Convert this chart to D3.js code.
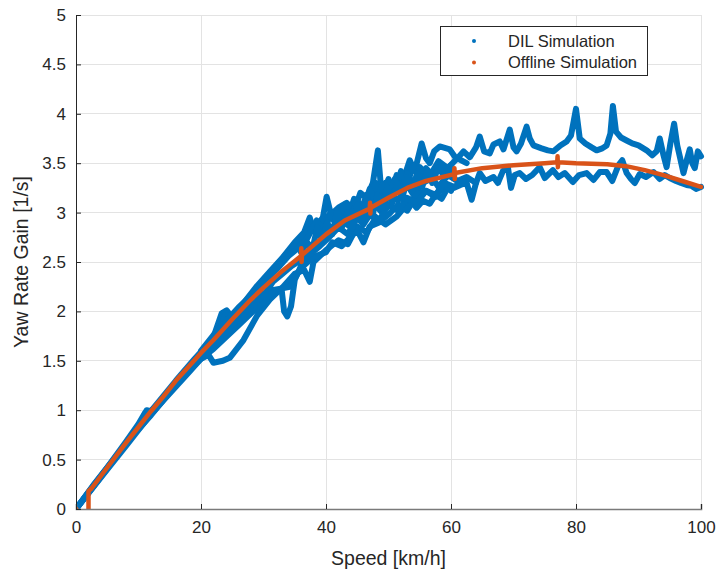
<!DOCTYPE html>
<html>
<head>
<meta charset="utf-8">
<script src="https://cdn.jsdelivr.net/npm/d3@7"></script>
<style>
  html, body { margin: 0; padding: 0; background: #fff; }
  svg { display: block; font-family: Arial, "Liberation Sans", Helvetica, sans-serif; }
</style>
</head>
<body>
<svg id="chart" width="719" height="572"></svg>
<script>
// ---------- data ----------
const xTicks = [0, 20, 40, 60, 80, 100];
const yTicks = [0, 0.5, 1, 1.5, 2, 2.5, 3, 3.5, 4, 4.5, 5];
const yTickLabels = ["0", "0.5", "1", "1.5", "2", "2.5", "3", "3.5", "4", "4.5", "5"];
const seriesNames = ["DIL Simulation", "Offline Simulation"];
const xLabel = "Speed [km/h]";
const yLabel = "Yaw Rate Gain [1/s]";

// DIL Simulation: several recorded runs [speed, gain]
const dilRunA = [[0,0],[2,0.17],[5,0.42],[8,0.68],[10,0.86],[11,0.97],[12,0.99],[14,1.12],[17,1.35],[20,1.58],[22,1.74],[23.3,1.98],[24.1,2.01],[25,1.94],[27,2.10],[29,2.26],[31,2.40],[33,2.54],[35,2.70],[36.5,2.80],[37.4,2.95],[38,2.82],[39.5,2.95],[40.1,3.16],[40.8,2.98],[42,3.05],[43.3,3.10],[44.5,3.02],[45.5,3.20],[46.5,3.15],[47.5,3.30],[48.3,3.63],[48.8,3.25],[49.5,3.30],[50.5,3.22],[51.3,3.38],[52.2,3.30],[53.4,3.53],[54.2,3.42],[55.3,3.70],[56,3.55],[56.6,3.50],[57.3,3.62],[58.2,3.67],[59.8,3.64],[60.9,3.54],[62,3.62],[63,3.56],[64,3.66],[64.6,3.77],[65.3,3.62],[66.2,3.60],[66.8,3.69],[67.8,3.72],[68.4,3.64],[69.4,3.84],[70,3.66],[70.5,3.62],[71.2,3.70],[72.1,3.87],[72.6,3.75],[73.2,3.68],[74.5,3.65],[75.5,3.63],[76.4,3.62],[77.5,3.68],[78.5,3.72],[79.2,3.78],[80,4.05],[80.6,3.75],[81.5,3.70],[82.5,3.66],[83.3,3.63],[84.2,3.65],[84.9,3.68],[85.5,3.80],[85.9,4.08],[86.4,3.82],[87.2,3.76],[88.1,3.73],[89,3.70],[90,3.68],[91.3,3.63],[92.2,3.58],[92.9,3.62],[93.4,3.75],[94,3.58],[94.5,3.46],[95.1,3.70],[95.7,3.90],[96.2,3.68],[96.6,3.57],[97.2,3.40],[97.8,3.55],[98.2,3.64],[98.6,3.50],[99,3.45],[99.5,3.62],[100,3.57]];
const dilRunB = [[0,0],[2,0.16],[5,0.40],[8,0.64],[10,0.80],[12,0.96],[14,1.10],[16,1.24],[18,1.38],[20,1.52],[21.2,1.56],[22,1.48],[23.5,1.50],[24.6,1.53],[26.8,1.71],[29,1.96],[31,2.12],[33,2.24],[35,2.38],[36.5,2.42],[37.4,2.30],[38,2.50],[40,2.62],[42,2.72],[43.5,2.68],[45,2.86],[46.5,2.80],[48,2.95],[49.5,2.88],[51.3,2.96],[52.5,3.05],[53.4,3.13],[54.5,3.05],[55.5,3.12],[56.6,3.09],[57.5,3.18],[58.5,3.14],[59.3,3.23],[60.5,3.25],[61.5,3.28],[62.5,3.30],[63.3,3.13],[64,3.30],[64.6,3.40],[65.5,3.32],[66.8,3.36],[67.5,3.30],[68.3,3.42],[69.1,3.46],[69.6,3.25],[70.2,3.38],[71,3.40],[72,3.34],[73,3.38],[74.2,3.46],[75,3.35],[76.3,3.43],[77.2,3.36],[78.2,3.40],[79.5,3.31],[80.5,3.38],[81.7,3.40],[82.8,3.33],[83.8,3.41],[84.9,3.41],[85.8,3.32],[86.8,3.48],[87.4,3.53],[88.1,3.40],[88.8,3.34],[89.4,3.30],[90.2,3.39],[91.2,3.36],[92.4,3.41],[93.4,3.34],[94.2,3.38],[95,3.35],[96,3.32],[96.8,3.30],[97.7,3.28],[98.5,3.27],[99.2,3.24],[100,3.26]];
const dilRunC = [[0,0],[3,0.26],[6,0.50],[9,0.74],[12,0.95],[15,1.18],[18,1.42],[20,1.56],[22,1.70],[23.5,1.82],[24.2,1.98],[25,1.85],[26.5,1.96],[28,2.08],[30,2.18],[31.5,2.22],[32.9,2.22],[33.3,2.00],[33.8,1.95],[34.4,2.05],[35,2.32],[36,2.46],[37,2.54],[38,2.66],[39.5,2.70],[41,2.84],[42.5,2.92],[44,2.85],[45,3.05],[46,2.95],[47.5,3.10],[49,3.00],[50,3.20],[51.5,3.12],[53,3.28],[54,3.18],[55.5,3.30],[57,3.35],[58,3.26],[59.5,3.38],[61,3.32],[62.5,3.36],[64,3.30]];
const dilRunD = [[0,0],[4,0.33],[8,0.66],[10.5,0.88],[11.3,1.00],[12,0.99],[16,1.30],[19,1.52],[21,1.66],[23,1.82],[24,1.98],[24.8,1.86],[26,1.98],[27.5,2.12],[29,2.22],[30.5,2.35],[32,2.46],[33.2,2.55],[35,2.66],[36.5,2.78],[38,2.86],[39,2.80],[40.5,2.98],[41.5,2.90],[42.5,3.06],[43.5,2.94],[44.5,3.14],[45.5,3.00],[46.5,3.18],[47.3,3.05],[48,3.30],[48.8,3.12],[50,3.34],[51,3.20],[52,3.42],[53,3.30],[54,3.48],[55,3.35],[56,3.45],[57,3.38],[58,3.50],[59,3.42],[60,3.48]];
const dilRunE = [[0,0],[5,0.41],[10,0.82],[15,1.20],[18,1.40],[20,1.52],[22,1.62],[24,1.74],[26,1.86],[28,1.98],[30,2.10],[32,2.22],[34.2,2.25],[36,2.44],[38,2.55],[40,2.60],[41,2.70],[42.5,2.66],[44,2.76],[45,2.82],[46,2.70],[47,2.86],[48.5,2.90],[50,2.98],[51.5,3.08],[53,3.02],[54.5,3.18],[56,3.22],[57.5,3.16],[59,3.28],[60,3.22]];
const dilRunF = [[20,1.55],[22,1.68],[24,1.80],[26,1.92],[28,2.05],[30,2.16],[31.5,2.30],[33,2.38],[34.5,2.46],[36,2.52],[37.5,2.58],[39,2.66],[40.5,2.75],[42,2.85],[43.5,2.78],[45,2.95],[46,2.88],[47.2,3.00],[48.5,2.92],[50,3.08],[51.5,3.02],[53,3.15],[54.5,3.10],[56,3.22],[57.5,3.18],[59,3.30],[60.5,3.26],[62,3.32]];
const dilRunG = [[20,1.60],[22,1.76],[24,1.90],[26,2.04],[28,2.16],[30,2.30],[32,2.42],[34,2.56],[35.5,2.64],[37,2.74],[38.5,2.92],[39.5,2.82],[41,3.00],[42,2.90],[43,3.08],[44,2.96],[45,3.12],[46,3.04],[47,3.24],[48,3.10],[49,3.28],[50,3.15],[51,3.34],[52,3.22],[53,3.40],[54,3.28],[55,3.46],[56.5,3.36],[58,3.52],[59.5,3.45],[61,3.55],[62.5,3.50]];
const dilRunH = [[36,2.60],[37,2.70],[37.8,2.62],[38.6,2.85],[39.4,2.72],[40.2,2.90],[41,2.78],[41.8,3.02],[42.6,2.86],[43.4,3.00],[44.2,2.84],[45,3.08],[45.8,2.92],[46.6,3.12],[47.4,2.96],[48.2,3.18],[49,3.04],[49.8,3.26],[50.6,3.10],[51.4,3.30],[52.2,3.14],[53,3.36],[53.8,3.22],[54.6,3.40],[55.4,3.26],[56.2,3.42],[57,3.30],[58,3.46],[59,3.36],[60,3.44]];
const dilRuns = [dilRunA, dilRunB, dilRunC, dilRunD, dilRunE, dilRunF, dilRunG, dilRunH];

// Offline Simulation [speed, gain]
const offlineSpeed = [0, 2, 2, 2.5, 5, 8, 10, 12, 14, 16, 18, 20, 22, 25, 28, 30, 33, 36, 36.05, 36.1, 36.15, 40, 43, 47, 47.05, 47.1, 47.15, 50, 53, 56, 60.5, 60.55, 60.6, 60.65, 65, 70, 75, 77, 77.05, 77.1, 77.15, 80, 85, 88, 91, 94, 97, 100];
const offlineGain  = [0, 0, 0.18, 0.21, 0.42, 0.67, 0.83, 0.99, 1.14, 1.30, 1.44, 1.58, 1.71, 1.92, 2.12, 2.24, 2.41, 2.56, 2.64, 2.50, 2.57, 2.78, 2.92, 3.04, 3.10, 2.99, 3.05, 3.15, 3.25, 3.32, 3.39, 3.45, 3.34, 3.40, 3.45, 3.48, 3.50, 3.51, 3.57, 3.46, 3.51, 3.50, 3.49, 3.47, 3.43, 3.38, 3.32, 3.26];

// ---------- drawing ----------
const W = 719, H = 572;
const margin = {left: 76, top: 15, right: 18, bottom: 63};
const svg = d3.select("#chart");
const x = d3.scaleLinear().domain([0, 100]).range([margin.left, W - margin.right]);
const y = d3.scaleLinear().domain([0, 5]).range([H - margin.bottom, margin.top]);

const blue = "#0072BD", orange = "#D95319", axisColor = "#262626", gridColor = "#e3e3e3";

// grid
const grid = svg.append("g");
grid.selectAll("line.gx").data(xTicks.filter(t => t > 0)).join("line")
  .attr("x1", d => x(d)).attr("x2", d => x(d))
  .attr("y1", y(0)).attr("y2", y(5))
  .attr("stroke", gridColor).attr("stroke-width", 1).attr("shape-rendering", "crispEdges");
grid.selectAll("line.gy").data(yTicks.filter(t => t > 0)).join("line")
  .attr("x1", x(0)).attr("x2", x(100))
  .attr("y1", d => y(d)).attr("y2", d => y(d))
  .attr("stroke", gridColor).attr("stroke-width", 1).attr("shape-rendering", "crispEdges");

// clip
svg.append("clipPath").attr("id", "plotclip").append("rect")
  .attr("x", x(0)).attr("y", y(5) - 4).attr("width", x(100) - x(0) + 4).attr("height", y(0) - y(5) + 4);

const plot = svg.append("g").attr("clip-path", "url(#plotclip)");
const line = d3.line().x(d => x(d[0])).y(d => y(d[1])).curve(d3.curveLinear);

plot.selectAll("path.dil").data(dilRuns).join("path")
  .attr("class", "dil")
  .attr("d", line)
  .attr("fill", "none").attr("stroke", blue)
  .attr("stroke-width", 6).attr("stroke-linejoin", "round").attr("stroke-linecap", "round");

const offPts = offlineSpeed.map((s, i) => [s, offlineGain[i]]);
plot.append("path")
  .attr("d", line(offPts.slice(1)))
  .attr("fill", "none").attr("stroke", orange)
  .attr("stroke-width", 4.5).attr("stroke-linejoin", "round").attr("stroke-linecap", "round");
plot.append("circle").attr("cx", x(offPts[0][0])).attr("cy", y(offPts[0][1])).attr("r", 2.5).attr("fill", orange);

// axes
const xAxis = d3.axisBottom(x).tickValues(xTicks).tickSize(-5).tickPadding(12).tickFormat(d3.format("d"));
const yAxis = d3.axisLeft(y).tickValues(yTicks).tickSize(-5).tickPadding(10).tickFormat((d, i) => yTickLabels[i]);

const gx = svg.append("g").attr("transform", `translate(0,${y(0)})`).call(xAxis);
const gy = svg.append("g").attr("transform", `translate(${x(0)},0)`).call(yAxis);
[gx, gy].forEach(g => {
  g.select(".domain").attr("stroke", axisColor).attr("stroke-width", 1);
  g.selectAll(".tick line").attr("stroke", axisColor);
  g.selectAll(".tick text").attr("fill", axisColor).attr("font-size", 17)
    .attr("font-family", "Arial, 'Liberation Sans', Helvetica, sans-serif");
});
gx.select(".domain").attr("stroke", "#7a7a7a").attr("stroke-width", 1.6);

// axis labels
svg.append("text").attr("x", (x(0) + x(100)) / 2).attr("y", 565)
  .attr("text-anchor", "middle").attr("font-size", 19.5).attr("fill", axisColor).text(xLabel);
svg.append("text").attr("transform", `translate(28,${(y(0) + y(5)) / 2}) rotate(-90)`)
  .attr("text-anchor", "middle").attr("font-size", 19.5).attr("fill", axisColor).text(yLabel);

// legend
const lg = svg.append("g");
lg.append("rect").attr("x", 440.5).attr("y", 26.5).attr("width", 207).attr("height", 49)
  .attr("fill", "#fff").attr("stroke", axisColor).attr("stroke-width", 1);
const legColors = [blue, orange];
seriesNames.forEach((name, i) => {
  const cy = 41 + i * 21.5;
  lg.append("circle").attr("cx", 474).attr("cy", cy).attr("r", 2).attr("fill", legColors[i]);
  lg.append("text").attr("x", 508).attr("y", cy).attr("dy", "0.35em")
    .attr("font-size", 16.5).attr("fill", axisColor).text(name);
});
</script>
</body>
</html>
